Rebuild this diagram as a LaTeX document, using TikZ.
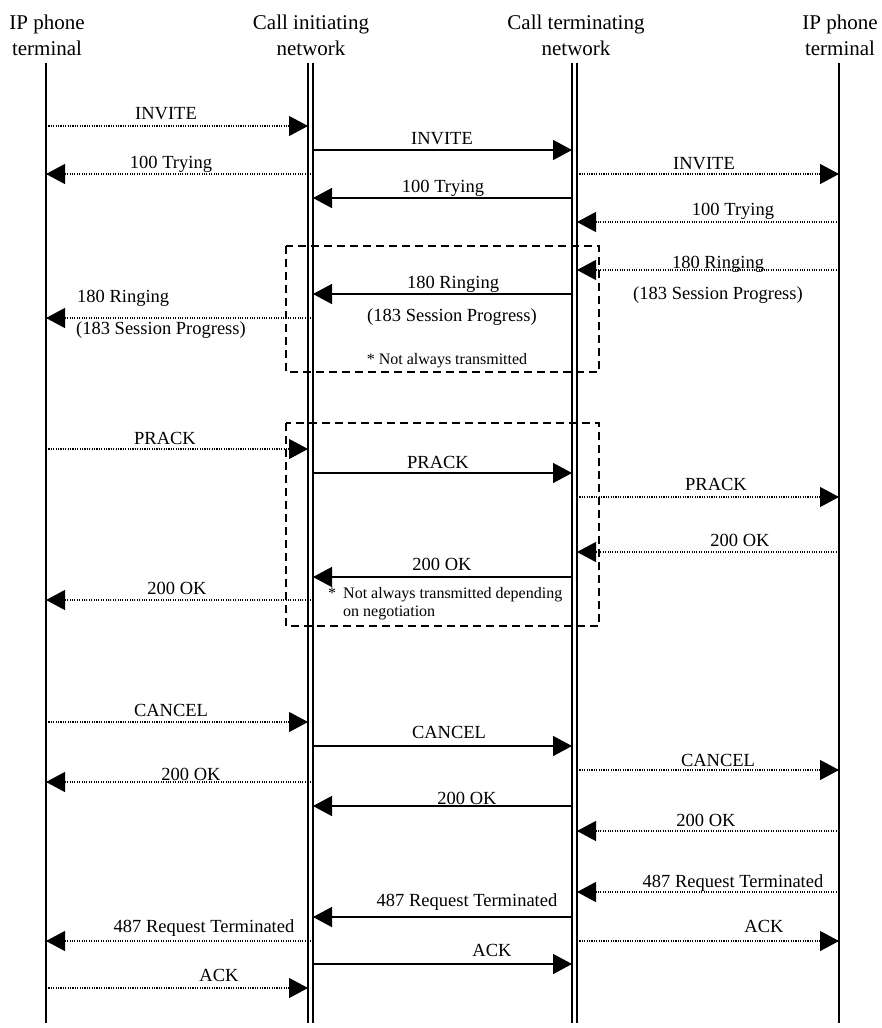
\documentclass[tikz,border=0pt]{standalone}
\usepackage{fontspec}
\setmainfont{Liberation Serif}
\usetikzlibrary{arrows.meta}
\begin{document}
\begin{tikzpicture}[x=1pt,y=-1pt,
  life/.style={line width=1.5pt},
  smsg/.style={line width=1.4pt,-{Triangle[length=19pt,width=20pt]}},
  dmsg/.style={line width=1.2pt,dash pattern=on 1.1pt off 1.3pt,-{Triangle[length=19pt,width=20pt]}},
  lbl/.style={font=\fontsize{18.5}{22}\selectfont, inner sep=0pt, anchor=base},
  lbll/.style={lbl, anchor=base west},
  hdr/.style={font=\fontsize{21}{26}\selectfont, inner sep=0pt, anchor=base},
  note/.style={font=\fontsize{16}{19}\selectfont, inner sep=0pt, anchor=base},
  notel/.style={note, anchor=base west},
  optbox/.style={line width=1.5pt, dash pattern=on 8pt off 5pt}]
\useasboundingbox (0,0) rectangle (881,1028);

% headers
\node[hdr] (hA1) at (47,29) {IP phone};
\node[hdr] (hA2) at (47,55) {terminal};
\node[hdr] (hB1) at (311,29) {Call initiating};
\node[hdr] (hB2) at (311,55) {network};
\node[hdr] (hC1) at (576,29) {Call terminating};
\node[hdr] (hC2) at (576,55) {network};
\node[hdr] (hD1) at (840,29) {IP phone};
\node[hdr] (hD2) at (840,55) {terminal};

% lifelines
\coordinate (A) at (46,63);   \coordinate (Ab) at (46,1023);
\coordinate (B1) at (308,63); \coordinate (B1b) at (308,1023);
\coordinate (B2) at (313,63); \coordinate (B2b) at (313,1023);
\coordinate (C1) at (572,63); \coordinate (C1b) at (572,1023);
\coordinate (C2) at (577,63); \coordinate (C2b) at (577,1023);
\coordinate (D) at (839,63);  \coordinate (Db) at (839,1023);
\draw[life] (A) -- (Ab);
\draw[life] (B1) -- (B1b);
\draw[life] (B2) -- (B2b);
\draw[life] (C1) -- (C1b);
\draw[life] (C2) -- (C2b);
\draw[life] (D) -- (Db);

% optional boxes
\draw[optbox] (286,246) rectangle (599,372);
\draw[optbox] (286,423) rectangle (599,626);

% INVITE phase
\draw[dmsg] (A |- 0,126) -- (B1 |- 0,126);
\node[lbl] (l1) at (166,119) {INVITE};
\draw[smsg] (B2 |- 0,150) -- (C1 |- 0,150);
\node[lbl] (l2) at (442,144) {INVITE};
\draw[dmsg] (B2 |- 0,174) -- (A |- 0,174);
\node[lbl] (l3) at (171,168) {100 Trying};
\draw[dmsg] (C2 |- 0,174) -- (D |- 0,174);
\node[lbl] (l4) at (704,169) {INVITE};
\draw[smsg] (C1 |- 0,198) -- (B2 |- 0,198);
\node[lbl] (l5) at (443,192) {100 Trying};
\draw[dmsg] (D |- 0,222) -- (C2 |- 0,222);
\node[lbl] (l6) at (733,215) {100 Trying};

% Ringing
\draw[dmsg] (D |- 0,270) -- (C2 |- 0,270);
\node[lbl] (l7) at (718,268) {180 Ringing};
\node[lbl] (l7b) at (718,299) {(183 Session Progress)};
\draw[smsg] (C1 |- 0,294) -- (B2 |- 0,294);
\node[lbl] (l8) at (453,288) {180 Ringing};
\node[lbl] (l8b) at (452,321) {(183 Session Progress)};
\draw[dmsg] (B2 |- 0,318) -- (A |- 0,318);
\node[lbll] (l9) at (77,302) {180 Ringing};
\node[lbll] (l9b) at (76,334) {(183 Session Progress)};
\node[note] (n1) at (447,364) {* Not always transmitted};

% PRACK
\draw[dmsg] (A |- 0,449) -- (B1 |- 0,449);
\node[lbl] (l10) at (165,444) {PRACK};
\draw[smsg] (B2 |- 0,473) -- (C1 |- 0,473);
\node[lbl] (l11) at (438,468) {PRACK};
\draw[dmsg] (C2 |- 0,497) -- (D |- 0,497);
\node[lbl] (l12) at (716,490) {PRACK};
\draw[dmsg] (D |- 0,552) -- (C2 |- 0,552);
\node[lbl] (l13) at (740,546) {200 OK};
\draw[smsg] (C1 |- 0,577) -- (B2 |- 0,577);
\node[lbl] (l14) at (442,570) {200 OK};
\draw[dmsg] (B2 |- 0,600) -- (A |- 0,600);
\node[lbl] (l15) at (177,594) {200 OK};
\node[note] (n2a) at (332,598) {*};
\node[notel] (n2b) at (343,598) {Not always transmitted depending};
\node[notel] (n2c) at (343,616) {on negotiation};

% CANCEL
\draw[dmsg] (A |- 0,722) -- (B1 |- 0,722);
\node[lbl] (l16) at (171,716) {CANCEL};
\draw[smsg] (B2 |- 0,746) -- (C1 |- 0,746);
\node[lbl] (l17) at (449,738) {CANCEL};
\draw[dmsg] (C2 |- 0,770) -- (D |- 0,770);
\node[lbl] (l18) at (718,766) {CANCEL};
\draw[dmsg] (B2 |- 0,782) -- (A |- 0,782);
\node[lbl] (l19) at (191,780) {200 OK};
\draw[smsg] (C1 |- 0,806) -- (B2 |- 0,806);
\node[lbl] (l20) at (467,804) {200 OK};
\draw[dmsg] (D |- 0,831) -- (C2 |- 0,831);
\node[lbl] (l21) at (706,826) {200 OK};

% 487 / ACK
\draw[dmsg] (D |- 0,892) -- (C2 |- 0,892);
\node[lbl] (l22) at (733,887) {487 Request Terminated};
\draw[smsg] (C1 |- 0,917) -- (B2 |- 0,917);
\node[lbl] (l23) at (467,906) {487 Request Terminated};
\draw[dmsg] (B2 |- 0,941) -- (A |- 0,941);
\node[lbl] (l24) at (204,932) {487 Request Terminated};
\draw[dmsg] (C2 |- 0,941) -- (D |- 0,941);
\node[lbl] (l25) at (764,932) {ACK};
\draw[smsg] (B2 |- 0,964) -- (C1 |- 0,964);
\node[lbl] (l26) at (492,956) {ACK};
\draw[dmsg] (A |- 0,988) -- (B1 |- 0,988);
\node[lbl] (l27) at (219,981) {ACK};
\end{tikzpicture}
\end{document}
